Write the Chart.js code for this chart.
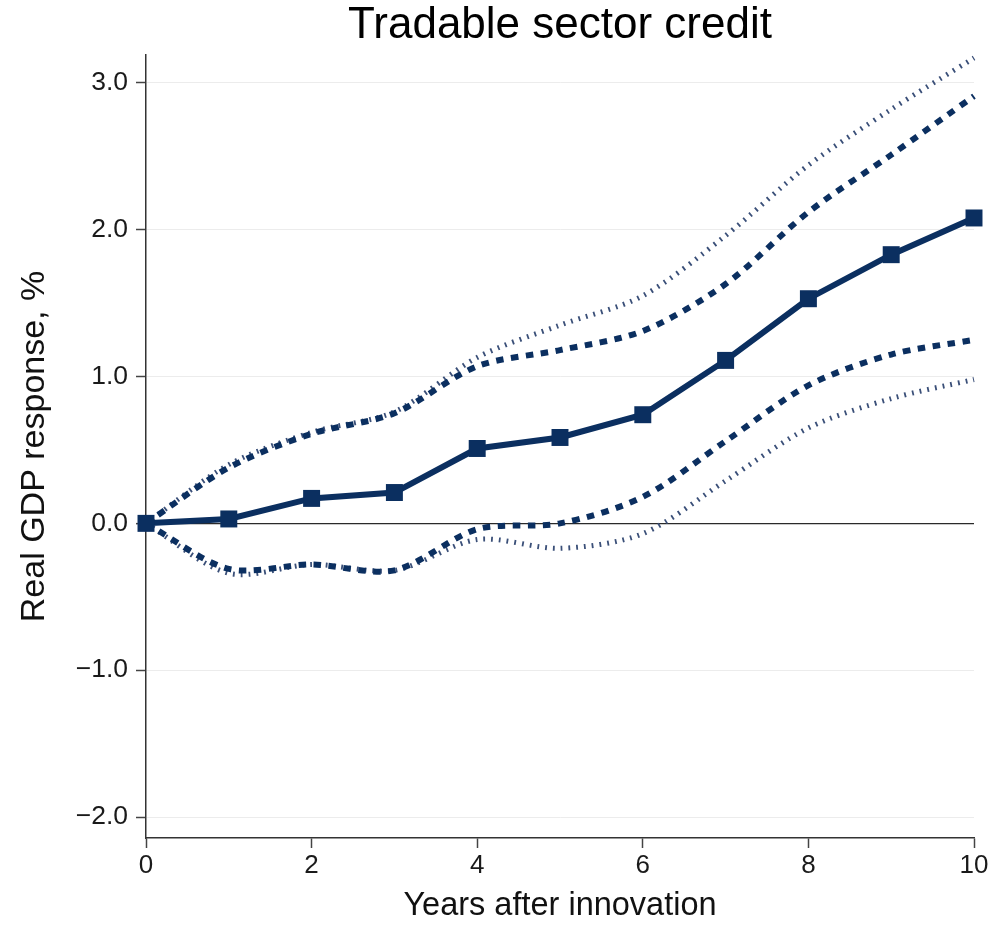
<!DOCTYPE html>
<html>
<head>
<meta charset="utf-8">
<title>Tradable sector credit</title>
<script src="https://cdn.jsdelivr.net/npm/chart.js@4.4.1/dist/chart.umd.min.js"></script>
<style>
  html, body { margin: 0; padding: 0; background: #ffffff; }
  #wrap { width: 1004px; height: 926px; position: relative; }
</style>
</head>
<body>
<div id="wrap"><canvas id="chart" width="1004" height="926"></canvas></div>
<script>
// Horizon (years after the credit innovation)
const years = [0, 1, 2, 3, 4, 5, 6, 7, 8, 9, 10];

// Impulse response of real GDP, %
const response = [0, 0.03, 0.17, 0.21, 0.51, 0.585, 0.74, 1.11, 1.53, 1.83, 2.08];

// Inner confidence band (dashed)
const innerUpper = [0, 0.38, 0.61, 0.75, 1.07, 1.18, 1.31, 1.63, 2.12, 2.51, 2.91];
const innerLower = [0, -0.31, -0.28, -0.32, -0.04, 0.0, 0.18, 0.56, 0.94, 1.15, 1.25];

// Outer confidence band (dotted)
const outerUpper = [0, 0.40, 0.62, 0.76, 1.13, 1.35, 1.55, 1.96, 2.44, 2.82, 3.17];
const outerLower = [0, -0.34, -0.28, -0.32, -0.11, -0.17, -0.07, 0.29, 0.65, 0.85, 0.98];

// Axis ticks
const yTicks = [-2, -1, 0, 1, 2, 3];
const xTicks = [0, 2, 4, 6, 8, 10];

const NAVY = '#0b2f60';
const DOT = '#3a4f78';
const FONT = '"Liberation Sans", Arial, Helvetica, sans-serif';

const toPoints = arr => arr.map((v, i) => ({ x: years[i], y: v }));

const fmt = v => (v < 0 ? '\u2212' : '') + Math.abs(v).toFixed(1);

const bandStyle = (color, width, dash) => ({
  borderColor: color,
  borderWidth: width,
  borderDash: dash,
  borderCapStyle: 'butt',
  pointRadius: 0,
  pointHoverRadius: 0,
  tension: 0.3,
  fill: false,
  clip: false
});

new Chart(document.getElementById('chart'), {
  type: 'line',
  data: {
    datasets: [
      Object.assign({ label: 'Outer band (upper)', data: toPoints(outerUpper), order: 4 }, bandStyle(DOT, 5, [1.8, 6])),
      Object.assign({ label: 'Outer band (lower)', data: toPoints(outerLower), order: 4 }, bandStyle(DOT, 5, [1.8, 6])),
      Object.assign({ label: 'Inner band (upper)', data: toPoints(innerUpper), order: 3 }, bandStyle(NAVY, 6, [7.5, 7.5])),
      Object.assign({ label: 'Inner band (lower)', data: toPoints(innerLower), order: 3 }, bandStyle(NAVY, 6, [7.5, 7.5])),
      {
        label: 'Real GDP response',
        data: toPoints(response),
        borderColor: NAVY,
        backgroundColor: NAVY,
        borderWidth: 6,
        pointStyle: 'rect',
        pointRadius: 12,
        pointHoverRadius: 12,
        pointBorderWidth: 0,
        pointBackgroundColor: NAVY,
        tension: 0,
        fill: false,
        clip: false,
        order: 1
      }
    ]
  },
  options: {
    responsive: false,
    animation: false,
    layout: { padding: { left: 0, right: 30, top: 0, bottom: 0 } },
    plugins: {
      legend: { display: false },
      tooltip: { enabled: false },
      title: {
        display: true,
        text: 'Tradable sector credit',
        fullSize: false,
        color: '#000000',
        font: { family: FONT, size: 44, weight: 'normal', lineHeight: 1.0 },
        padding: { top: 4, bottom: 7 }
      }
    },
    scales: {
      x: {
        type: 'linear',
        min: 0,
        max: 10,
        afterBuildTicks: s => { s.ticks = xTicks.map(v => ({ value: v })); },
        afterFit: s => { s.height = 88; },
        ticks: {
          color: '#1a1a1a',
          font: { family: FONT, size: 26 },
          padding: 2,
          maxRotation: 0,
          callback: v => String(v)
        },
        grid: {
          drawOnChartArea: false,
          drawTicks: true,
          tickLength: 10,
          tickColor: '#444444',
          tickWidth: 1.5
        },
        border: { display: true, color: '#333333', width: 1.5 },
        title: {
          display: true,
          text: 'Years after innovation',
          color: '#111111',
          font: { family: FONT, size: 32.5, lineHeight: 1.2 },
          padding: { top: 0, bottom: 0 }
        }
      },
      y: {
        type: 'linear',
        min: -2.143,
        max: 3.19,
        afterBuildTicks: s => { s.ticks = yTicks.map(v => ({ value: v })); },
        afterFit: s => { s.width = 146; },
        ticks: {
          color: '#1a1a1a',
          font: { family: FONT, size: 26.5 },
          padding: 8,
          callback: v => fmt(v)
        },
        grid: {
          color: c => (c.tick && c.tick.value === 0 ? '#2a2a2a' : '#ececec'),
          lineWidth: c => (c.tick && c.tick.value === 0 ? 1.3 : 1),
          drawTicks: true,
          tickLength: 10,
          tickColor: '#444444',
          tickWidth: 1.5
        },
        border: { display: true, color: '#333333', width: 1.5 },
        title: {
          display: true,
          text: 'Real GDP response, %',
          color: '#111111',
          font: { family: FONT, size: 34, lineHeight: 1.2 },
          padding: { top: 14, bottom: 0 }
        }
      }
    }
  }
});
</script>
</body>
</html>
